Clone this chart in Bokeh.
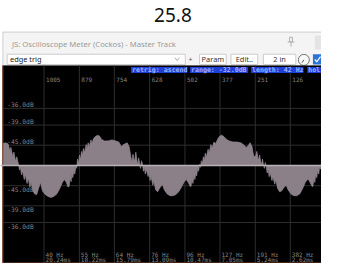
from bokeh.plotting import figure
from bokeh.models import Range1d, ColumnDataSource, Span
from bokeh.core.properties import value
from bokeh.embed import file_html
from bokeh.resources import INLINE

# ---------------- data ----------------
TITLE = "25.8"
WINDOW_TITLE = "JS: Oscilloscope Meter (Cockos) - Master Track"
PRESET = "edge trig"
BUTTONS = ["Param", "Edit..", "2 in"]
STATUS = ["retrig: ascend", "range: -32.0dB", "length: 42 Hz", "hol"]

sample_ticks = [1005, 879, 754, 628, 502, 377, 251, 126]
freq_labels = ["40 Hz", "55 Hz", "64 Hz", "76 Hz", "96 Hz", "127 Hz", "191 Hz", "382 Hz"]
period_labels = ["20.24ms", "18.22ms", "15.79ms", "13.09ms", "10.47ms", "7.05ms", "5.24ms", "2.62ms"]
db_levels = [-36.0, -39.0, -45.0]

# waveform: time in samples (from left of view), amplitude in 1e-3 full scale
wave_t = [7, 17, 27, 34, 37, 44, 48, 54, 58, 65,
          68, 71, 75, 78, 85, 88, 95, 99, 105, 109,
          116, 122, 129, 136, 143, 150, 160, 170, 180, 190,
          201, 211, 221, 228, 235, 241, 245, 248, 252, 255,
          258, 262, 265, 269, 272, 275, 279, 282, 286, 289,
          292, 296, 299, 306, 309, 313, 316, 323, 326, 333,
          340, 347, 354, 360, 371, 384, 398, 411, 422, 432,
          439, 445, 452, 459, 462, 466, 469, 473, 476, 479,
          483, 486, 490, 493, 496, 500, 503, 507, 510, 513,
          517, 520, 527, 530, 534, 537, 544, 547, 554, 561,
          568, 578, 585, 595, 605, 615, 626, 636, 646, 656,
          663, 670, 677, 680, 683, 687, 690, 694, 697, 700,
          704, 707, 711, 714, 717, 721, 724, 728, 731, 734,
          741, 745, 751, 755, 762, 768, 775, 782, 789, 796,
          806, 816, 830, 843, 857, 867, 877, 884, 891, 898,
          901, 904, 911, 915, 918, 921, 925, 928, 932, 935,
          938, 942, 945, 949, 952, 955, 959, 962, 969, 972,
          979, 983, 989, 996, 1003, 1013, 1020, 1027, 1037, 1047,
          1057, 1068, 1078, 1088, 1098, 1105, 1112, 1115, 1119, 1122,
          1125, 1129, 1132, 1136, 1139, 1142, 1146]
wave_amp = [6.0, 6.3, 6.0, 3.9, 5.0, 2.4, 3.7, 1.0, 2.4, 0.0,
            -1.3, -0.3, -2.6, -1.3, -3.9, -2.4, -5.0, -3.4, -6.0, -4.7,
            -7.1, -7.9, -8.1, -6.3, -4.7, -7.1, -8.1, -8.6, -8.9, -8.6,
            -7.9, -6.5, -4.7, -3.9, -4.7, -6.0, -5.8, -3.4, -4.5, -2.1,
            -3.4, -1.3, -2.4, -0.3, -0.8, 1.8, 0.5, 2.9, 1.6, 3.9,
            2.6, 4.7, 3.4, 5.8, 4.5, 6.3, 5.0, 7.1, 6.0, 7.6,
            8.1, 8.4, 8.1, 7.3, 6.8, 6.8, 7.1, 6.8, 6.5, 5.2,
            5.8, 6.0, 6.3, 5.2, 3.9, 2.1, 0.8, 3.1, 1.8, 1.0,
            3.7, 1.8, 0.0, 2.1, 0.8, -0.8, 1.3, 0.3, -1.6, -0.3,
            -2.4, -1.0, -3.1, -1.8, -4.2, -2.9, -5.5, -4.2, -6.8, -7.3,
            -6.3, -5.2, -6.8, -7.9, -8.4, -8.4, -8.1, -7.3, -6.0, -4.5,
            -3.9, -4.7, -5.8, -5.8, -3.9, -5.0, -2.9, -3.9, -1.8, -2.9,
            -0.8, -1.6, 0.3, -0.5, 1.3, 0.5, 2.4, 1.3, 3.4, 2.1,
            4.5, 3.4, 5.8, 4.7, 6.5, 6.0, 7.3, 8.1, 8.4, 8.1,
            7.3, 6.8, 6.5, 6.5, 6.3, 5.8, 5.0, 5.5, 6.3, 5.2,
            3.7, 2.4, 2.6, 3.9, 2.4, 1.3, 2.9, 1.3, 0.0, 1.8,
            0.5, -0.8, 0.8, -0.5, -2.1, -0.8, -3.1, -1.8, -4.2, -2.9,
            -5.2, -3.9, -6.3, -7.3, -7.1, -6.0, -5.5, -6.8, -7.9, -8.4,
            -8.4, -7.9, -6.5, -4.7, -3.7, -4.7, -5.8, -5.8, -3.7, -4.7,
            -2.4, -3.4, -1.3, -2.4, -0.3, -1.0, 0.8]

# ---------------- scales ----------------
VIEW_SAMPLES = 1160.4          # sample count at the left edge of the view
MONO = value("DejaVu Sans Mono")
SANS = value("Noto Sans")

p = figure(width=321, height=263, output_backend="svg", toolbar_location=None,
           x_range=Range1d(0, 1145.8), y_range=Range1d(-27.23, 45.81),
           x_axis_location=None, y_axis_location=None, min_border=0,
           background_fill_color="white", border_fill_color="white",
           outline_line_color=None)
p.grid.visible = False
p.extra_x_ranges = {"px": Range1d(0, 337)}
p.extra_y_ranges = {"px": Range1d(279, 0)}
PX = dict(x_range_name="px", y_range_name="px")

# ---------------- page title ----------------
p.text(x=[181], y=[15.5], text=[TITLE], text_font=SANS, text_font_size="19px",
       text_align="center", text_baseline="middle", text_color="#111111", **PX)

# ---------------- window chrome ----------------
p.quad(left=[2.5], right=[345], top=[33.5], bottom=[69], fill_color="#f4f4f4",
       line_color="#cfcfcf", line_width=1, **PX)
p.text(x=[12], y=[46], text=[WINDOW_TITLE], text_font=SANS, text_font_size="7.7px",
       text_align="left", text_baseline="middle", text_color="#9a9a9a", **PX)
# pin icon
p.quad(left=[303.5], right=[306.5], top=[39], bottom=[44], fill_color=None,
       line_color="#b0b0b0", line_width=1, **PX)
p.segment(x0=[301.5, 305], y0=[44, 44], x1=[308.5, 305], y1=[44, 49],
          line_color="#b0b0b0", line_width=1, **PX)
# close button area
p.quad(left=[330], right=[345], top=[37], bottom=[52], fill_color="#e4e4e4",
       line_color=None, **PX)

# preset dropdown
p.quad(left=[7], right=[194], top=[57], bottom=[68], fill_color="white",
       line_color="#cccccc", line_width=1, **PX)
p.text(x=[10], y=[62.5], text=[PRESET], text_font=SANS, text_font_size="7.4px",
       text_align="left", text_baseline="middle", text_color="#222222", **PX)
p.line(x=[183, 185.5, 188], y=[61, 63.5, 61], line_color="#9a9a9a", line_width=1, **PX)
p.text(x=[199.5], y=[62.5], text=["+"], text_font=SANS, text_font_size="7px",
       text_align="center", text_baseline="middle", text_color="#555555", **PX)

btn_left = [209, 242, 276]
btn_right = [237, 270, 310]
p.quad(left=btn_left, right=btn_right, top=[57] * 3, bottom=[68] * 3,
       fill_color="white", line_color="#cccccc", line_width=1, **PX)
p.text(x=[(a + b) / 2 for a, b in zip(btn_left, btn_right)], y=[62.5] * 3, text=BUTTONS,
       text_font=SANS, text_font_size="7.4px", text_align="center",
       text_baseline="middle", text_color="#333333", **PX)
# knob
p.scatter(x=[318.5], y=[63], marker="circle", size=11, fill_color="#f8f8f8",
          line_color="#777777", line_width=1, **PX)
p.segment(x0=[318.5], y0=[63], x1=[316.5], y1=[66], line_color="#555555",
          line_width=1, **PX)
# checkbox
p.quad(left=[328], right=[345], top=[57], bottom=[68], fill_color="#2b74d6",
       line_color=None, **PX)
p.line(x=[330, 332, 336], y=[62.5, 65, 59.5], line_color="white", line_width=1.2, **PX)

# ---------------- scope ----------------
p.quad(left=[2], right=[345], top=[69], bottom=[285], fill_color="black",
       line_color=None, **PX)

# vertical grid (sample ticks)
tick_pos = [VIEW_SAMPLES - s for s in sample_ticks]
p.segment(x0=tick_pos, x1=tick_pos, y0=[69] * len(tick_pos), y1=[279] * len(tick_pos),
          line_color="#2e2e2e", line_width=1, x_range_name="default", y_range_name="px")

# horizontal grid (dB levels, linear amplitude)
amp_levels = [1000 * 10 ** (d / 20) for d in db_levels]
h_y = amp_levels + [-a for a in amp_levels]
p.segment(x0=[3] * len(h_y), x1=[337] * len(h_y), y0=h_y, y1=h_y,
          line_color="#2e2e2e", line_width=1, x_range_name="px", y_range_name="default")

# waveform
src = ColumnDataSource(dict(t=wave_t, a=wave_amp))
p.varea(x="t", y1=0, y2="a", source=src, fill_color="#8b7f88")
p.line(x="t", y="a", source=src, line_color="#968b93", line_width=0.7)
p.add_layout(Span(location=0, dimension="width", line_color="#b8b2b6", line_width=1.5))

# dB labels
db_text = ["%.1fdB" % d for d in db_levels]
p.text(x=[7] * 3, y=amp_levels, text=db_text, text_font=MONO, text_font_size="6.3px",
       text_align="left", text_baseline="bottom", text_color="#858585",
       x_range_name="px", y_range_name="default")
p.text(x=[7] * 3, y=[-a for a in amp_levels], text=db_text, text_font=MONO,
       text_font_size="6.3px", text_align="left", text_baseline="top",
       text_color="#858585", x_range_name="px", y_range_name="default")

# sample count labels (top)
p.text(x=tick_pos, y=[84] * 8, text=[str(s) for s in sample_ticks], text_font=MONO,
       text_font_size="6px", text_align="left", text_baseline="middle",
       text_color="#858585", x_offset=2, x_range_name="default", y_range_name="px")
# frequency / period labels (bottom)
p.text(x=tick_pos, y=[269] * 8, text=freq_labels, text_font=MONO,
       text_font_size="6px", text_align="left", text_baseline="middle",
       text_color="#858585", x_offset=1.5, x_range_name="default", y_range_name="px")
p.text(x=tick_pos, y=[274.5] * 8, text=period_labels, text_font=MONO,
       text_font_size="6px", text_align="left", text_baseline="middle",
       text_color="#858585", x_offset=1.5, x_range_name="default", y_range_name="px")

# scope border
p.segment(x0=[2.5, 2], y0=[69, 278.5], x1=[2.5, 345], y1=[279, 278.5],
          line_color="#8a4a2a", line_width=1, **PX)

# status bar
st_left = [137, 199, 263, 322]
st_right = [196, 260, 318, 345]
p.quad(left=st_left, right=st_right, top=[70.5] * 4, bottom=[77] * 4,
       fill_color="#1f3fd6", line_color=None, **PX)
p.text(x=[a + 1 for a in st_left], y=[73.8] * 4, text=STATUS, text_font=MONO,
       text_font_size="6.6px", text_font_style="bold", text_align="left",
       text_baseline="middle", text_color="#9fb2ff", **PX)

open("out.html", "w").write(file_html(p, INLINE))
